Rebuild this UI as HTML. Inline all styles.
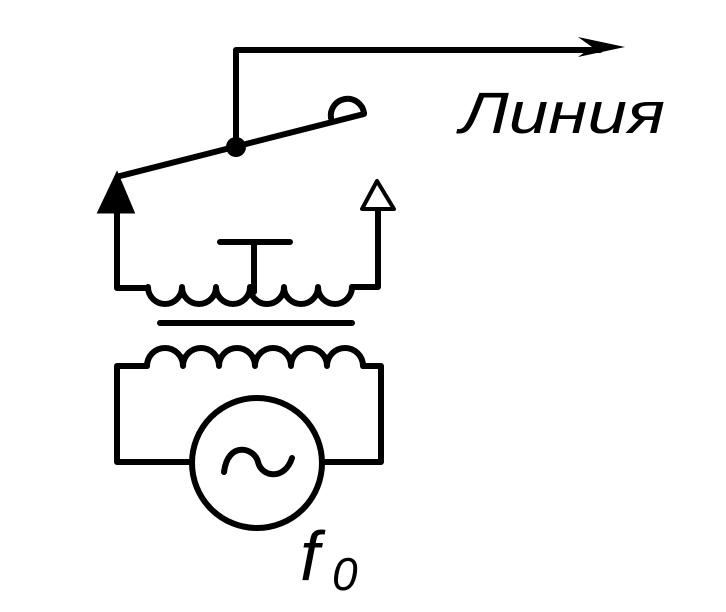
<!DOCTYPE html>
<html><head><meta charset="utf-8"><style>body{margin:0;background:#fff}svg{display:block}</style></head><body>
<svg width="726" height="612" viewBox="0 0 726 612" xmlns="http://www.w3.org/2000/svg">
<g fill="none" stroke="#000" stroke-width="6" stroke-linejoin="round" stroke-linecap="round">
<path d="M236 147 V50 H600"/>
<path d="M120 176 L364 114"/>
<path d="M331 118 A16 16 0 0 1 364 113"/>
<path d="M117 210 V288 H148"/>
<path d="M378 210 V287 H352"/>
<path d="M148 287 a17 17 0 0 0 34 0 a17 17 0 0 0 34 0 a17 17 0 0 0 34 0 a17 17 0 0 0 34 0 a17 17 0 0 0 34 0 a17 17 0 0 0 34 0"/>
<path d="M220 242 H290 M254 242 V292"/>
<path d="M160 323 H352"/>
<path d="M147 366 a18 18 0 0 1 36 0 a18 18 0 0 1 36 0 a18 18 0 0 1 36 0 a18 18 0 0 1 36 0 a18 18 0 0 1 36 0 a18 18 0 0 1 36 0"/>
<path d="M147 366 H117 V462 H192 M322 462 H381 V366 H363"/>
<circle cx="257" cy="463" r="65"/>
<path d="M224 472 C228 440 255 448 258 462 C262 478 285 480 292 458"/>
</g>
<polygon points="117,174 99,212 133,212" fill="#000" stroke="#000" stroke-width="3"/>
<polygon points="377,181 362,209 394,209" fill="#fff" stroke="#000" stroke-width="4" stroke-linejoin="round"/>
<circle cx="236" cy="147" r="10" fill="#000"/>
<polygon points="625,47 578,37 592,47 578,57" fill="#000"/>
<text x="460" y="133" font-family="Liberation Sans, DejaVu Sans, sans-serif" font-size="58" font-style="italic" fill="#000" textLength="205" lengthAdjust="spacingAndGlyphs">Линия</text>
<text x="300" y="580" font-family="Liberation Sans, sans-serif" font-size="70" font-style="italic" fill="#000">f</text>
<text x="332" y="590" font-family="Liberation Sans, sans-serif" font-size="46" font-style="italic" fill="#000">0</text>
</svg>
</body></html>
